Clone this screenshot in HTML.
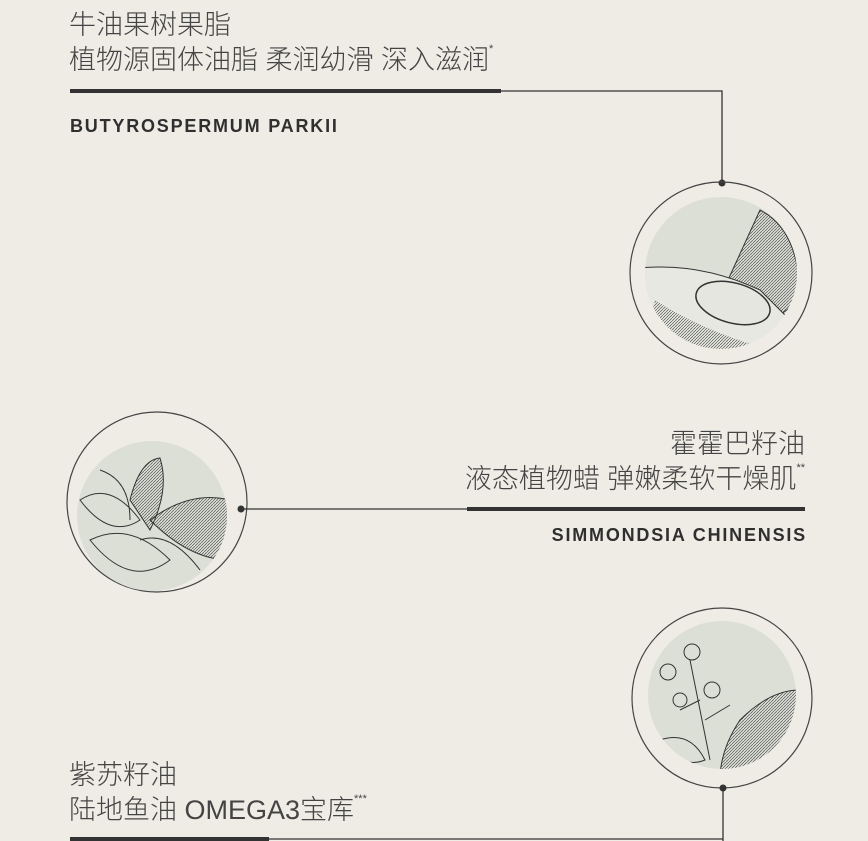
<!DOCTYPE html>
<html><head><meta charset="utf-8"><style>
html,body{margin:0;padding:0}
body{width:868px;height:841px;position:relative;overflow:hidden;background:#efece5;font-family:"Liberation Sans","Noto Sans CJK SC",sans-serif;color:#444}
.t{position:absolute;font-size:27px;line-height:36px;white-space:nowrap;font-weight:300}
.t sup{font-size:11px;vertical-align:top;line-height:11px;position:relative;top:2px}
.l{position:absolute;font-size:18px;font-weight:bold;letter-spacing:1.8px;color:#2f2f2f;white-space:nowrap}
svg{position:absolute;left:0;top:0}
</style></head><body>
<svg width="868" height="841" viewBox="0 0 868 841">
<defs>
<pattern id="h" width="3" height="3" patternUnits="userSpaceOnUse"><path d="M0 3L3 0" stroke="#555" stroke-width="0.7"/></pattern>
</defs>
<rect x="70" y="89" width="431" height="4" fill="#333"/>
<path d="M500 91H722V183" fill="none" stroke="#333" stroke-width="1.3"/>
<circle cx="722" cy="183" r="3.5" fill="#333"/>
<circle cx="721" cy="273" r="91" fill="none" stroke="#444" stroke-width="1.2"/>
<circle cx="721" cy="273" r="76" fill="#dcdfd6"/>
<clipPath id="c1"><circle cx="721" cy="273" r="76"/></clipPath>
<g clip-path="url(#c1)">
<path d="M760 210 Q800 230 800 300 L760 330 L728 280 Z" fill="url(#h)" stroke="#333"/>
<path d="M640 268 Q700 262 760 290 L800 330 L800 360 L640 360 Z" fill="#e6e8e1" stroke="#333"/>
<path d="M655 300 Q700 330 770 350 L640 360 Z" fill="url(#h)"/>
<ellipse cx="733" cy="303" rx="38" ry="20" transform="rotate(15 733 303)" fill="#e4e6df" stroke="#333" stroke-width="1.5"/>
</g>
<circle cx="157" cy="502" r="90" fill="none" stroke="#444" stroke-width="1.2"/>
<circle cx="152" cy="516" r="75" fill="#dcdfd6"/>
<clipPath id="c2"><circle cx="152" cy="516" r="75"/></clipPath>
<g clip-path="url(#c2)" fill="none" stroke="#333" stroke-width="1">
<path d="M130 500 Q140 460 160 458 Q170 490 150 530 Z" fill="url(#h)"/>
<path d="M80 500 Q110 480 140 520 Q110 540 80 500Z"/>
<path d="M100 470 Q130 480 130 520"/>
<path d="M150 520 Q190 490 230 500 L230 560 Q190 560 150 520Z" fill="url(#h)"/>
<path d="M90 540 Q130 520 170 560 Q130 590 90 540Z"/>
<path d="M140 540 Q170 530 200 570"/>
</g>
<circle cx="241" cy="509" r="3.5" fill="#333"/>
<path d="M241 509H468" stroke="#333" stroke-width="1.3"/>
<rect x="467" y="507" width="338" height="4" fill="#333"/>
<circle cx="722" cy="698" r="90" fill="none" stroke="#444" stroke-width="1.2"/>
<circle cx="722" cy="695" r="74" fill="#dcdfd6"/>
<clipPath id="c3"><circle cx="722" cy="695" r="74"/></clipPath>
<g clip-path="url(#c3)" fill="none" stroke="#333" stroke-width="1">
<path d="M740 720 Q770 690 800 690 L800 780 L720 780 Q720 750 740 720Z" fill="url(#h)"/>
<path d="M690 660 L710 760 M700 700 L680 710 M705 720 L730 705"/>
<circle cx="668" cy="672" r="8"/><circle cx="692" cy="652" r="8"/><circle cx="712" cy="690" r="8"/><circle cx="680" cy="700" r="7"/>
<path d="M660 740 Q690 730 705 760 Q680 770 660 740Z"/>
</g>
<circle cx="723" cy="788" r="3.5" fill="#333"/>
<path d="M723 788V841 M268 839H723" stroke="#333" stroke-width="1.3" fill="none"/>
<rect x="70" y="837" width="199" height="4" fill="#333"/>
</svg>
<div class="t" style="left:69px;top:7px">牛油果树果脂</div>
<div class="t" style="left:69px;top:42px">植物源固体油脂 柔润幼滑 深入滋润<sup>*</sup></div>
<div class="l" style="left:70px;top:116px">BUTYROSPERMUM PARKII</div>
<div class="t" style="right:63px;top:426px">霍霍巴籽油</div>
<div class="t" style="right:63px;top:461px;">液态植物蜡 弹嫩柔软干燥肌<sup>**</sup></div>
<div class="l" style="right:61px;top:525px">SIMMONDSIA CHINENSIS</div>
<div class="t" style="left:69px;top:757px">紫苏籽油</div>
<div class="t" style="left:69px;top:792px">陆地鱼油 OMEGA3宝库<sup>***</sup></div>
</body></html>
